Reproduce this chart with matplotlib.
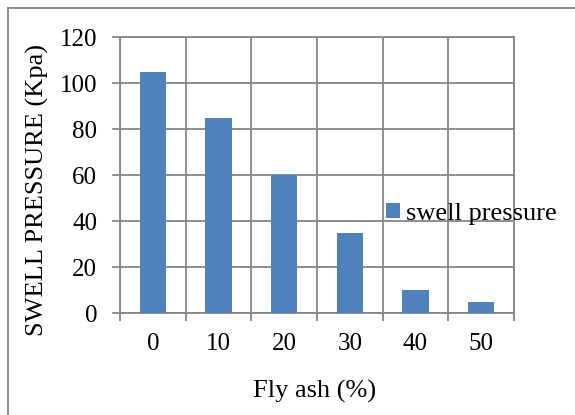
import numpy as np
import matplotlib
matplotlib.use('Agg')
import matplotlib.pyplot as plt
from matplotlib.lines import Line2D

# ---- data ----------------------------------------------------------------------
fly_ash = ['0', '10', '20', '30', '40', '50']
swell_pressure = [105, 85, 60, 35, 10, 5]
y_ticks = [0, 20, 40, 60, 80, 100, 120]

W, H = 575, 415
BAR = '#4F81BD'
GRID = '#868686'
FS_TICK, FS = 18, 19
TL = 5.8  # tick length [pt] (~8 px)
plt.rcParams['font.family'] = ['Liberation Serif', 'DejaVu Serif']

fig = plt.figure(figsize=(W/100, H/100), dpi=100)
a = fig.add_axes([120/W, 1 - 313/H, (514 - 120)/W, (313 - 37)/H])

x = np.arange(len(fly_ash))
a.bar(x, swell_pressure, width=0.4, color=BAR, label='swell pressure', zorder=3)
a.set_xlim(-0.5, len(fly_ash) - 0.5)
a.set_ylim(0, 120)
a.set_yticks(y_ticks)
a.set_xticks(x)
a.set_xticklabels(fly_ash)
a.set_xticks(np.arange(len(fly_ash) + 1) - 0.5, minor=True)

a.tick_params(axis='x', which='major', length=0, labelsize=FS_TICK, pad=14.5)
a.tick_params(axis='x', which='minor', length=TL, width=1.3, color=GRID, direction='out')
a.tick_params(axis='y', length=TL, width=1.3, color=GRID, labelsize=FS_TICK, pad=10.5)
a.grid(axis='y', color=GRID, lw=1.3, zorder=0)
a.grid(axis='x', which='minor', color=GRID, lw=1.3, zorder=0)
for sp in a.spines.values():
    sp.set_color(GRID); sp.set_linewidth(1.3)

fig.text(37/W, 1 - 190/H, 'SWELL PRESSURE (Kpa)', rotation=90,
         ha='center', va='center', fontsize=FS)
fig.text(315/W, 1 - 391/H, 'Fly ash (%)', ha='center', va='center', fontsize=FS)

a.legend(loc='center left', bbox_to_anchor=(386/W, 1 - 214/H),
         bbox_transform=fig.transFigure, frameon=False, fontsize=FS,
         handlelength=0.53, handleheight=0.53, handletextpad=0.23,
         borderpad=0, borderaxespad=0)

# outer frame (only top and left edges are visible)
fig.add_artist(Line2D([8/W, 1], [1 - 8/H, 1 - 8/H], color=GRID, lw=1.3))
fig.add_artist(Line2D([8/W, 8/W], [0, 1 - 8/H], color=GRID, lw=1.3))

fig.savefig('out.png', dpi=100, facecolor='white')
